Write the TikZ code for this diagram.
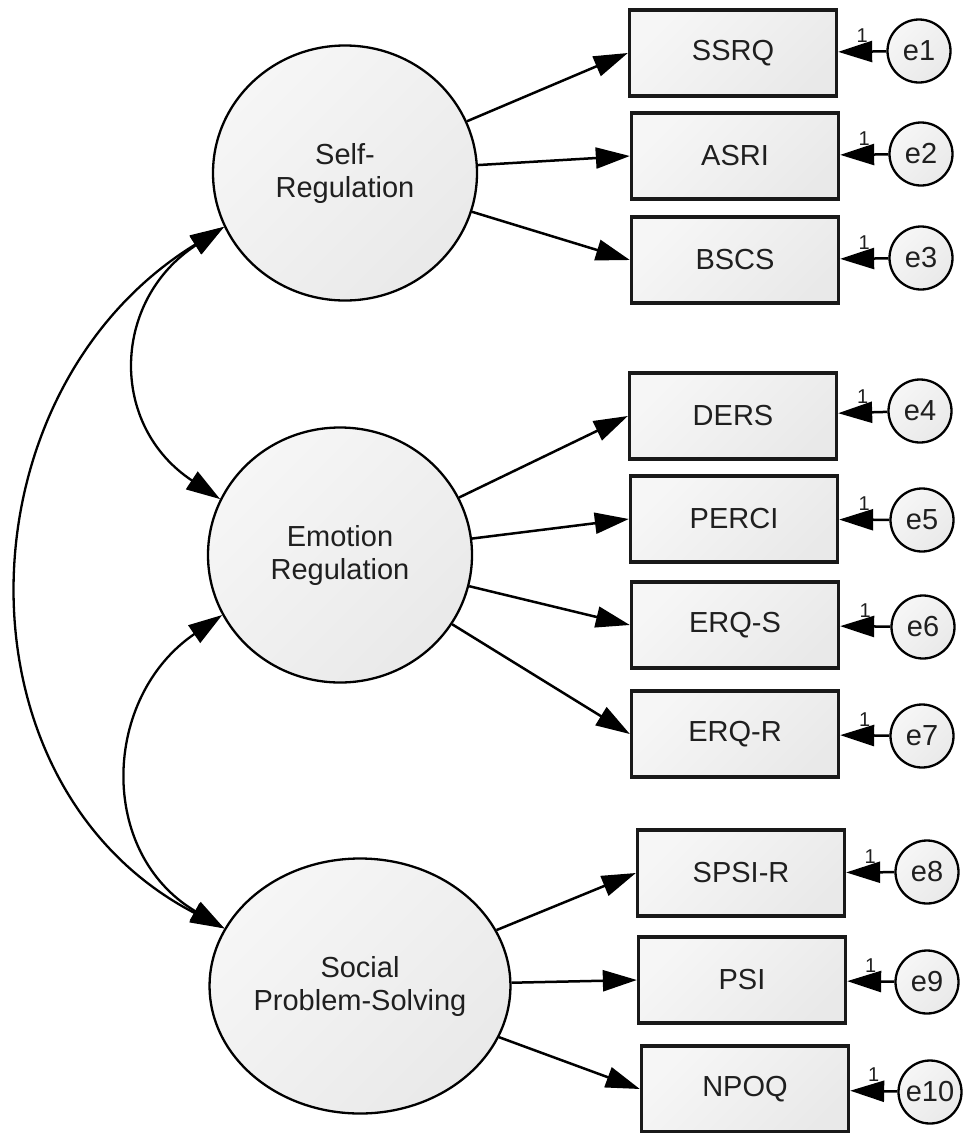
\documentclass[tikz,border=0pt]{standalone}
\usepackage{fontspec}
\setmainfont{Liberation Sans}
\usetikzlibrary{arrows.meta,shapes.geometric}
\begin{document}
\begin{tikzpicture}[x=1pt,y=-1pt,
  font=\fontsize{29}{33}\selectfont, text=black!88,
  grad/.style={top color=gray!7, bottom color=gray!17, shading angle=45},
  latent/.style={ellipse, grad, draw=black, line width=2.3pt, minimum width=264pt,
    minimum height=255pt, inner sep=0pt, align=center},
  obs/.style={rectangle, grad, draw=black!90, line width=3.3pt, minimum width=207pt,
    minimum height=86pt, inner sep=0pt},
  err/.style={circle, grad, draw=black, line width=2.3pt, minimum size=63pt,
    inner sep=0pt, font=\fontsize{29}{30}\selectfont},
  load/.style={line width=2.5pt, -{Triangle[length=34pt,width=21pt]}},
  cov/.style={line width=2.3pt,
    {Triangle[length=34pt,width=21pt]}-{Triangle[length=34pt,width=21pt]}},
  one/.style={font=\fontsize{20}{21}\selectfont, inner sep=1pt, above=7pt}
]
\useasboundingbox (0,0) rectangle (962,1133);

% latent factors
\node[latent] (sr) at (345,173) {Self-\\Regulation};
\node[latent] (er) at (340,555) {Emotion\\Regulation};
\node[latent] (sp) at (360,986) {Social\\Problem-Solving};

% indicators
\node[obs] (ssrq)  at (733,53)   {SSRQ};
\node[obs] (asri)  at (735,156)  {ASRI};
\node[obs] (bscs)  at (735,260)  {BSCS};
\node[obs] (ders)  at (733,416)  {DERS};
\node[obs] (perci) at (734,519)  {PERCI};
\node[obs] (erqs)  at (735,625)  {ERQ-S};
\node[obs] (erqr)  at (735,734)  {ERQ-R};
\node[obs] (spsir) at (741,873)  {SPSI-R};
\node[obs] (psi)   at (742,980)  {PSI};
\node[obs] (npoq)  at (745,1089) {NPOQ};

% error terms
\node[err] (e1)  at (919,51)   {e1};
\node[err] (e2)  at (921,154)  {e2};
\node[err] (e3)  at (921,258)  {e3};
\node[err] (e4)  at (920,411)  {e4};
\node[err] (e5)  at (922,520)  {e5};
\node[err] (e6)  at (923,627)  {e6};
\node[err] (e7)  at (922,736)  {e7};
\node[err] (e8)  at (927,872)  {e8};
\node[err] (e9)  at (927,982)  {e9};
\node[err] (e10) at (930,1092) {e10};

% factor loadings
\draw[load] (sr) -- (ssrq.west);
\draw[load] (sr) -- (asri.west);
\draw[load] (sr) -- (bscs.west);
\draw[load] (er) -- (ders.west);
\draw[load] (er) -- (perci.west);
\draw[load] (er) -- (erqs.west);
\draw[load] (er) -- (erqr.west);
\draw[load] (sp) -- (spsir.west);
\draw[load] (sp) -- (psi.west);
\draw[load] (sp) -- (npoq.west);

% error paths fixed to 1
\draw[load] (e1)  -- node[one] (w1)  {1} (ssrq);
\draw[load] (e2)  -- node[one] (w2)  {1} (asri);
\draw[load] (e3)  -- node[one] (w3)  {1} (bscs);
\draw[load] (e4)  -- node[one] (w4)  {1} (ders);
\draw[load] (e5)  -- node[one] (w5)  {1} (perci);
\draw[load] (e6)  -- node[one] (w6)  {1} (erqs);
\draw[load] (e7)  -- node[one] (w7)  {1} (erqr);
\draw[load] (e8)  -- node[one] (w8)  {1} (spsir);
\draw[load] (e9)  -- node[one] (w9)  {1} (psi);
\draw[load] (e10) -- node[one] (w10) {1} (npoq);

% factor covariances
\draw[cov] (sr.204) .. controls (112,300) and (108,425) .. (er.155);
\draw[cov] (er.207) .. controls (102,697) and (97,853) .. (sp.157);
\draw[cov] (sr.204) .. controls (-42,390) and (-52,785) .. (sp.157);
\end{tikzpicture}
\end{document}
